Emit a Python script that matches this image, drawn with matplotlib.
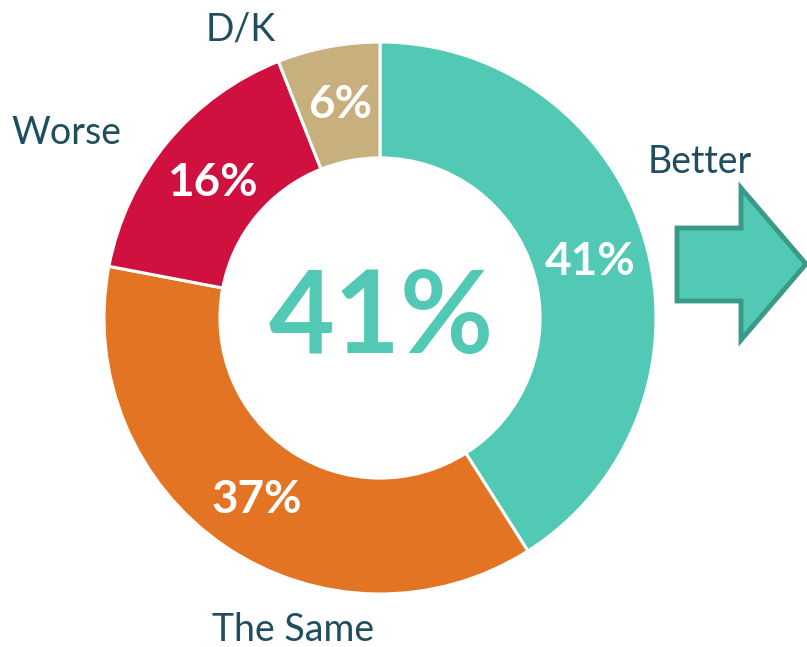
import matplotlib
matplotlib.use("Agg")
import matplotlib.pyplot as plt
from matplotlib.patches import Polygon

categories = ["Better", "The Same", "Worse", "D/K"]
values = [41, 37, 16, 6]
colors = ["#52C9B5", "#E37424", "#D0103E", "#C8B07E"]
center_value = "41%"

W, H = 807, 647
fig = plt.figure(figsize=(W / 100, H / 100), dpi=100)
ax = fig.add_axes([0, 0, 1, 1])

def py(y):
    return H - y

cx, cy, R = 380, py(318), 276
wedges, _ = ax.pie(values, colors=colors, startangle=90, counterclock=False,
                   center=(cx, cy), radius=R, frame=True,
                   wedgeprops=dict(width=R * 0.42, edgecolor="white", linewidth=2.2))
ax.set_xlim(0, W)
ax.set_ylim(0, H)
ax.set_aspect("auto")
ax.axis("off")

label_col = "#1F4E5F"
font = "Lato"

# percentage labels inside
pct_pos = [(590, 262), (257, 500), (212, 183), (340, 105)]
for v, (x, y) in zip(values, pct_pos):
    ax.text(x, py(y), f"{v}%", color="white", fontsize=33, fontweight="bold",
            family=font, ha="center", va="center")

# outer category labels
cat_pos = [(700, 162), (293, 630), (66, 133), (241, 30)]
for c, (x, y) in zip(categories, cat_pos):
    ax.text(x, py(y), c, color=label_col, fontsize=27, family=font,
            ha="center", va="center")

# central value
ax.text(381, py(320), center_value, color=colors[0], fontsize=82,
        fontweight="bold", family=font, ha="center", va="center")

# arrow
arrow_pts = [(677, 228), (741, 228), (741, 188), (806, 264),
             (741, 340), (741, 301), (677, 301)]
ax.add_patch(Polygon([(x, py(y)) for x, y in arrow_pts], closed=True,
                     facecolor=colors[0], edgecolor="#3A9A87", linewidth=3.5,
                     joinstyle="miter", clip_on=False))

fig.savefig("out.png", dpi=100)
